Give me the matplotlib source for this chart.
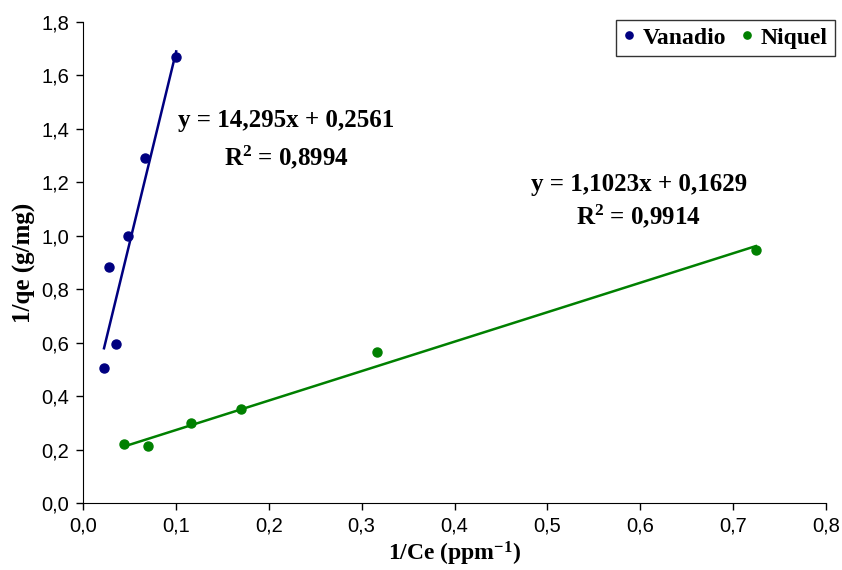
import matplotlib.pyplot as plt
import numpy as np

plt.rcParams['mathtext.fontset'] = 'custom'
plt.rcParams['mathtext.rm'] = 'Liberation Serif:bold'
plt.rcParams['mathtext.it'] = 'Liberation Serif:italic:bold'
plt.rcParams['mathtext.bf'] = 'Liberation Serif:bold'

# data
vanadio_x = [0.0226, 0.028, 0.0356, 0.0485, 0.0668, 0.1003]
vanadio_y = [0.505, 0.883, 0.595, 0.999, 1.291, 1.669]
niquel_x = [0.0442, 0.070, 0.1164, 0.170, 0.317, 0.7245]
niquel_y = [0.221, 0.213, 0.299, 0.352, 0.565, 0.947]

fits = {
    'Vanadio': (14.295, 0.2561, 0.8994),
    'Niquel': (1.1023, 0.1629, 0.9914),
}

navy = '#000080'
green = '#008000'

fig = plt.figure(figsize=(8.42, 5.70), dpi=100)
ax = fig.add_axes([0.0986, 0.1175, 0.8824, 0.8439])

ax.plot(vanadio_x, vanadio_y, 'o', color=navy, ms=6.5, label='Vanadio')
ax.plot(niquel_x, niquel_y, 'o', color=green, ms=6.5, label='Niquel')

# trendlines
for xs, name, col in [(vanadio_x, 'Vanadio', navy), (niquel_x, 'Niquel', green)]:
    m, b, r2 = fits[name]
    xx = np.array([min(xs), max(xs)])
    ax.plot(xx, m * xx + b, color=col, lw=1.8)

serif = 'Liberation Serif'
eq = dict(transform=ax.transAxes, ha='center', va='center', fontsize=18,
          fontweight='bold', family=serif)
ax.text(0.2736, 0.795, 'y = 14,295x + 0,2561', **eq)
ax.text(0.2736, 0.718, r'R$^{2}$ = 0,8994', **eq)
ax.text(0.748, 0.663, 'y = 1,1023x + 0,1629', **eq)
ax.text(0.748, 0.596, r'R$^{2}$ = 0,9914', **eq)

ax.set_xlim(0, 0.8)
ax.set_ylim(0, 1.8)
ax.set_xticks(np.arange(0, 0.81, 0.1))
ax.set_yticks(np.arange(0, 1.81, 0.2))
ax.set_xticklabels([('%.1f' % v).replace('.', ',') for v in np.arange(0, 0.81, 0.1)])
ax.set_yticklabels([('%.1f' % v).replace('.', ',') for v in np.arange(0, 1.81, 0.2)])
for lab in ax.get_xticklabels() + ax.get_yticklabels():
    lab.set_family('Liberation Sans')
    lab.set_fontsize(14.5)
ax.tick_params(direction='out', length=5, width=1, pad=5)

ax.spines['top'].set_visible(False)
ax.spines['right'].set_visible(False)

ax.set_xlabel('1/Ce (ppm$^{-1}$)', fontsize=17, fontweight='bold', family=serif, labelpad=3)
ax.set_ylabel('1/qe (g/mg)', fontsize=18, fontweight='bold', family=serif, labelpad=4)

leg = fig.legend(loc='upper right', bbox_to_anchor=(0.9917, 0.9649), ncol=2,
                 prop={'family': serif, 'weight': 'bold', 'size': 17},
                 fancybox=False, edgecolor='#333333', framealpha=1,
                 handlelength=0.5, handletextpad=0.35, columnspacing=0.6,
                 borderpad=0.3, borderaxespad=0, markerscale=0.8)
leg.get_frame().set_linewidth(1)

fig.savefig('out.png', dpi=100)
